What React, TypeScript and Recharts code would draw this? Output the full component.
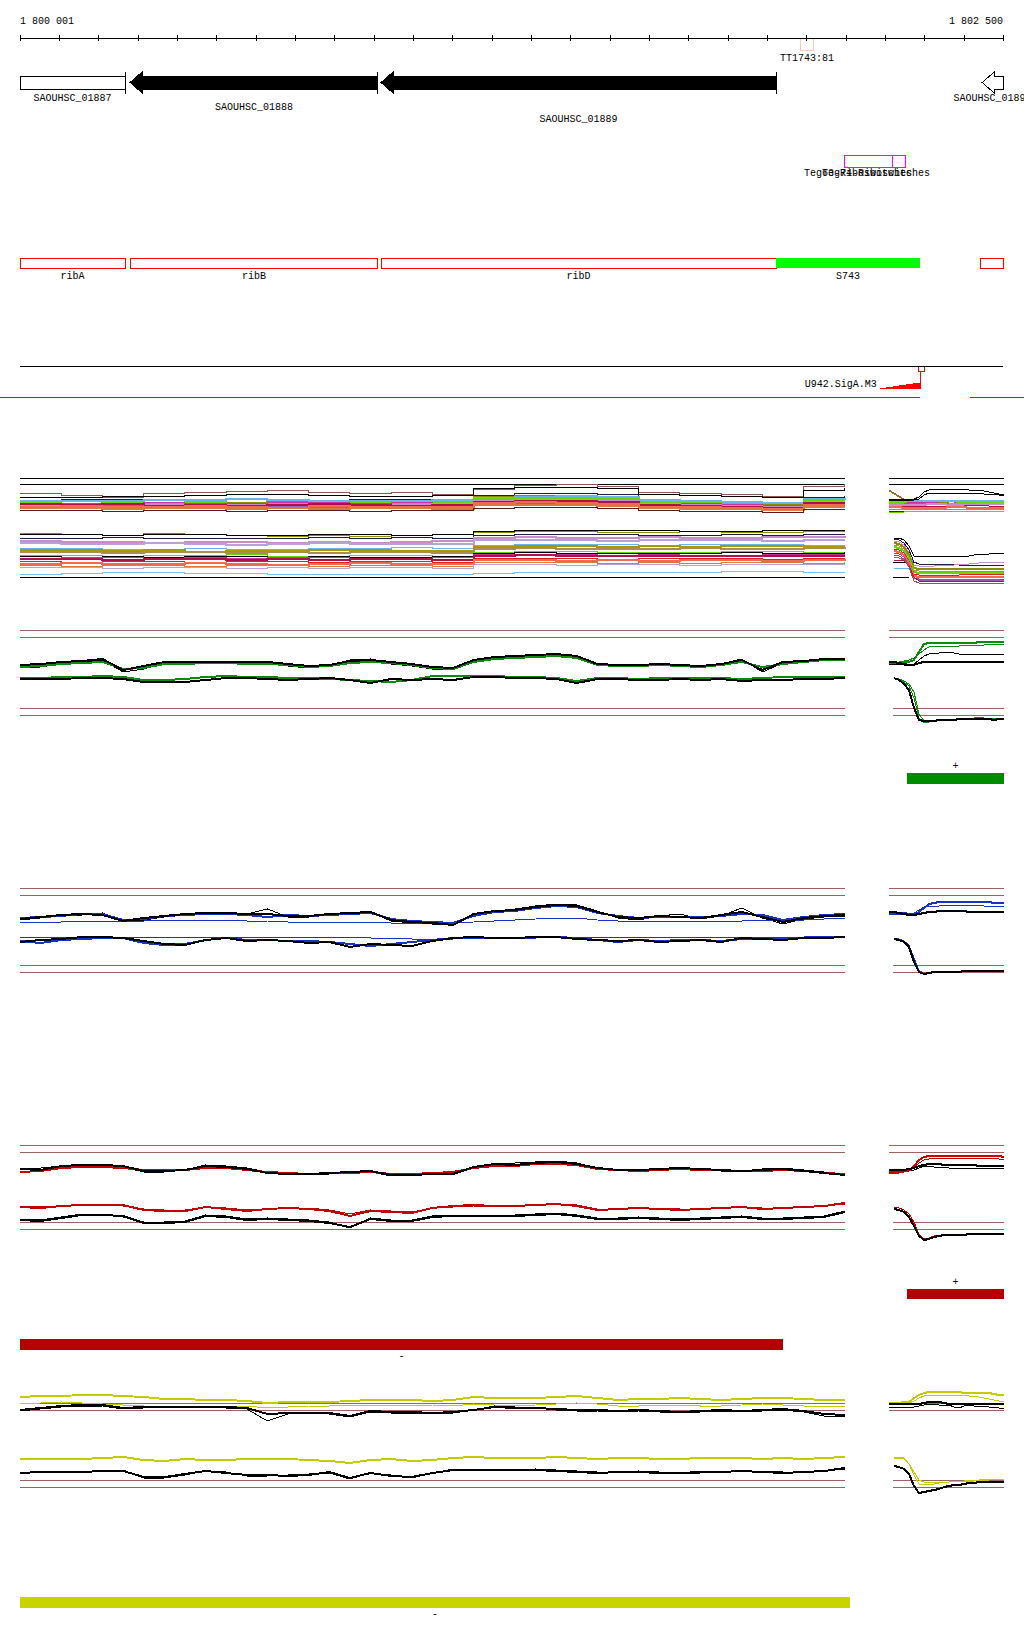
import React from 'react';
import {
  ComposedChart, LineChart, Line, Area, XAxis, YAxis, ReferenceArea, ReferenceLine,
} from 'recharts';

const MONO = '"Liberation Mono", "DejaVu Sans Mono", monospace';
const BROWN = '#9b6262';

// ---------- genome ruler / features (positions in bp) ----------
const rulerDomain: [number, number] = [1800001, 1802500];
const rulerTicks = [
  1800001, 1800101, 1800201, 1800301, 1800401, 1800501, 1800601, 1800701, 1800801,
  1800901, 1801001, 1801101, 1801201, 1801301, 1801401, 1801501, 1801601, 1801701,
  1801801, 1801901, 1802001, 1802101, 1802201, 1802301, 1802401, 1802500,
];
const rulerLabels = ['1 800 001', '1 802 500'];

const geneNames = ['SAOUHSC_01887', 'SAOUHSC_01888', 'SAOUHSC_01889', 'SAOUHSC_01890'];
const geneStarts = [1800001, 1800281, 1800919, 1802447];
const geneEnds = [1800268, 1800911, 1801923, 1802500];

const featureNames = ['ribA', 'ribB', 'ribD', 'S743', ''];
const featureStarts = [1800001, 1800281, 1800919, 1801923, 1802444];
const featureEnds = [1800268, 1800911, 1801923, 1802289, 1802500];

const tegNames = ['Teg63-Riboswitches', 'Teg74-Riboswitches'];
const tegStarts = [1802096, 1802218];
const tegEnds = [1802218, 1802253];

const terminatorName = 'TT1743:81';
const terminatorSpan = [1801986, 1802017];

const promoterName = 'U942.SigA.M3';
const promoterBp = [1802187, 1802203, 1802220, 1802236, 1802253, 1802270, 1802289];
const promoterScore = [1, 2, 3, 4, 5, 6, 6];
const promoterTss = 1802289;

// ---------- expression tracks ----------
// multi-condition track, main panel (21 steps) – group A (upper) and B (lower)
const mA1 = [97,95,93,97,98,99,100,98,97,98,96,101,105,106,104,98,97,96,94,104,106];
const mA2 = [93,93,94,94,95,96,96,95,94,94,95,102,103,103,102,96,95,94,93,100,102];
const mA3 = [90,91,91,90,91,91,90,90,91,91,91,95,97,97,96,91,90,89,88,93,94];
const mA4 = [88,89,88,86,85,87,88,88,87,88,89,93,94,94,93,89,88,87,85,91,91];
const mA5 = [87,86,88,87,88,86,87,87,88,87,88,91,92,92,91,88,87,86,84,90,90];
const mA6 = [89,89,89,90,90,91,90,89,89,89,90,92,93,94,93,90,89,88,87,91,92];
const mA7 = [85,85,84,85,84,85,85,84,85,85,86,89,90,90,89,86,85,84,83,88,88];
const mA8 = [86,85,86,84,85,84,85,86,85,84,85,88,89,89,88,85,84,83,82,87,87];
const mA9 = [83,84,83,83,84,83,82,84,83,83,83,87,88,87,86,83,83,82,81,85,85];
const mA10 = [82,82,81,82,82,81,82,81,82,82,81,85,85,85,84,82,81,81,80,83,83];
const mA11 = [84,83,85,83,83,84,84,83,84,83,84,87,87,87,86,84,83,82,82,86,86];
const mA12 = [80,80,79,80,80,79,80,80,79,80,80,82,83,83,82,80,79,79,78,81,81];
const mA13 = [87,87,87,88,87,87,88,88,87,88,87,90,91,91,90,87,87,86,85,89,89];

const mB1 = [57,56,55,57,56,55,54,55,54,55,56,58,59,59,58,58,59,58,58,59,59];
const mB2 = [56,56,55,56,56,55,55,56,56,55,56,59,60,60,60,60,59,59,60,60,60];
const mB3 = [52,52,53,52,52,52,52,53,52,53,52,55,56,56,56,55,55,56,55,56,56];
const mB4 = [49,48,48,47,48,48,47,48,47,48,49,52,53,52,52,53,52,52,53,53,52];
const mB5 = [47,46,46,47,46,45,46,47,46,46,46,50,50,50,49,50,50,50,49,50,50];
const mB6 = [42,42,41,41,42,41,41,42,42,43,42,45,46,46,46,45,46,46,46,45,45];
const mB7 = [40,40,39,40,38,39,39,40,40,39,39,43,44,44,43,44,43,44,44,43,43];
const mB8 = [38,38,37,38,38,37,38,37,38,38,37,41,42,41,41,41,42,41,41,42,41];
const mB9 = [35,35,34,35,35,36,34,34,35,35,34,38,39,39,38,38,38,39,39,38,38];
const mB10 = [34,33,34,33,34,34,33,34,33,33,34,37,38,37,37,37,37,38,37,37,38];
const mB11 = [32,33,33,32,33,32,33,33,32,32,33,36,36,36,35,36,35,35,36,36,36];
const mB12 = [31,31,30,31,31,30,31,30,31,31,30,34,35,34,34,34,34,34,34,34,34];
const mB13 = [29,28,29,29,28,29,29,28,29,29,28,32,32,32,31,32,32,32,31,32,32];
const mB14 = [26,27,26,26,27,26,25,26,27,26,26,30,30,29,30,29,30,30,29,30,29];
const mB15 = [25,24,25,25,24,25,25,24,25,25,24,28,28,28,27,28,27,28,28,27,28];
const mB16 = [23,23,22,23,23,22,23,22,23,23,22,26,26,25,26,26,25,26,26,26,25];
const mB17 = [16,17,18,18,17,17,16,16,16,16,16,17,18,18,18,18,18,19,19,18,18];

// multi-condition track, right panel (24 points)
const rA1 = [91,91,91,91,91,91,93,98,100,101,101,101,101,101,101,101,100,100,100,99,98,97,96,96];
const rA2 = [90,90,90,90,90,90,91,95,97,97,97,97,97,97,97,97,97,97,97,96,96,96,95,95];
const rA3 = [100,97,94,91,90,90,90,90,90,90,90,90,90,90,90,90,90,90,90,90,90,90,90,90];
const rA4 = [99,96,93,90,88,88,88,88,88,88,88,88,88,89,89,89,89,89,89,89,89,89,89,89];
const rA5 = [89,89,89,89,89,89,89,89,89,89,89,89,89,89,89,89,89,89,89,89,89,89,89,89];
const rA6 = [87,87,87,87,86,86,86,86,86,86,86,86,86,86,87,87,87,87,87,87,87,87,87,87];
const rA7 = [85,85,85,85,85,85,85,85,86,86,86,86,85,85,85,85,85,85,86,86,86,86,86,86];
const rA8 = [84,84,84,84,84,84,84,84,84,84,84,84,84,84,84,84,85,85,85,85,84,84,84,84];
const rA9 = [83,83,83,82,82,82,82,82,82,82,82,82,83,83,83,83,82,82,82,82,82,82,82,82];
const rA10 = [81,81,81,81,81,81,81,81,81,81,81,81,81,81,81,81,81,81,81,81,81,81,81,81];
const rA11 = [86,86,86,86,87,87,87,87,87,87,87,87,86,86,86,86,86,86,86,86,87,87,87,87];
const rA12 = [79,79,79,79,79,79,79,79,79,79,79,79,79,79,79,79,79,79,79,79,79,79,79,79];
const rA13 = [88,88,88,88,88,88,88,88,88,88,87,87,87,87,88,88,88,88,88,88,88,88,88,88];
const rA14 = [78,78,78,78,79,79,79,79,79,79,79,79,79,79,79,79,79,79,79,79,79,79,79,79];

const rB1 = [null,52,52,50,44,34,34,34,34,34,34,34,34,34,34,34,34,35,36,36,36,37,37,37];
const rB2 = [null,51,50,47,40,28,26,26,26,26,26,26,26,26,25,25,25,25,25,25,25,25,25,25];
const rB3 = [null,49,48,45,37,25,24,24,24,24,25,25,25,25,26,26,26,27,27,28,28,28,28,28];
const rB4 = [null,47,46,43,35,22,21,21,21,21,21,21,21,21,21,21,21,21,21,21,21,21,21,21];
const rB5 = [null,45,44,41,33,20,19,19,19,19,19,19,19,19,19,19,19,19,19,19,19,19,19,19];
const rB6 = [null,43,42,39,31,18,17,17,17,17,17,17,17,17,17,17,17,17,17,17,17,17,17,17];
const rB7 = [null,41,40,37,29,16,15,15,15,15,15,15,15,15,15,16,16,16,16,16,16,16,16,16];
const rB8 = [null,39,38,35,27,14,13,13,13,13,13,13,13,13,13,13,13,13,13,13,13,13,13,13];
const rB9 = [null,37,36,33,25,12,11,11,11,11,11,11,11,11,11,11,11,11,11,11,11,11,11,11];
const rB10 = [null,35,34,31,23,9,7,7,7,7,7,7,7,7,7,7,7,7,7,7,7,7,7,7];
const rB11 = [null,22,22,22,22,22,22,22,22,22,22,22,22,22,22,22,22,22,22,22,22,22,22,22];
const rB12 = [null,30,30,29,24,13,9,9,9,9,9,9,9,9,9,9,9,9,9,9,9,9,9,9];
const rB13 = [null,33,32,30,24,12,10,10,10,10,10,10,10,10,10,10,10,10,10,10,10,10,10,10];

// green condition
const gUpBlack = [65,66,68,69,71,60,64,68,68,68,68,68,68,66,64,65,69,70,68,66,63,62,70,73,74,75,76,74,66,65,65,66,65,64,66,70,60,68,69,71,71];
const gUpBlackThin = [62,63,66,68,70,58,61,67,67,68,69,67,66,64,62,64,70,71,66,64,61,61,69,72,73,74,75,73,65,64,63,65,64,63,66,71,58,67,69,70,70];
const gUpColor = [63,64,66,67,68,61,62,66,66,67,67,66,66,65,63,64,67,68,67,65,62,61,68,71,72,73,74,72,65,64,64,65,64,63,65,68,63,66,68,70,70];
const gLowBlack = [51,51,51,52,52,51,48,48,48,50,52,52,51,50,51,52,50,47,51,50,51,50,53,53,52,52,51,47,51,51,50,50,51,50,51,49,50,50,51,51,52];
const gLowColor = [52,52,53,53,54,53,50,50,51,53,54,53,53,52,52,51,50,49,48,50,54,54,54,54,53,53,52,49,52,52,51,52,52,52,52,51,52,53,53,53,53];
const gUpColorR = [67,67,67,68,68,70,78,86,87,87,87,87,87,87,87,87,87,87,88,88,88,88,88,88];
const gUpColorThinR = [67,67,68,69,70,72,76,80,83,84,84,84,84,84,84,85,85,85,85,85,86,86,86,86];
const gUpBlackR = [68,68,67,66,65,65,67,68,68,68,68,68,68,68,68,68,68,68,68,68,68,68,68,68];
const gUpBlackThinR = [66,66,66,65,65,66,70,74,76,77,77,78,78,77,76,76,76,76,76,76,76,76,76,75];
const gLowColorR = [null,52,51,48,44,32,12,7,8,9,10,10,11,11,11,11,12,12,12,12,12,12,12,12];
const gLowColorThinR = [null,52,51,49,46,38,16,9,9,10,10,11,11,11,11,11,12,12,13,12,12,12,12,12];
const gLowBlackR = [null,52,50,46,40,22,10,9,9,9,10,10,10,10,11,11,11,11,11,11,11,10,11,11];

// blue condition
const bUpBlack = [61,63,65,66,65,59,62,64,66,67,67,66,66,64,64,66,67,68,60,58,57,55,66,69,70,73,75,74,68,63,62,64,63,62,65,68,63,58,62,64,65];
const bUpBlackThin = [60,62,64,65,67,58,60,63,65,66,67,66,71,63,63,65,67,68,59,57,56,56,65,69,71,74,76,75,69,62,60,64,66,61,64,72,62,56,61,63,64];
const bUpColor = [62,63,64,66,66,60,61,64,65,66,66,65,63,65,64,65,66,67,61,59,58,57,64,68,69,72,74,73,67,64,62,63,63,63,64,66,65,60,63,65,66];
const bUpColorFlat = [58,58,58,59,59,59,59,60,60,60,60,59,59,58,58,58,58,58,57,57,57,57,58,59,60,61,62,62,60,59,59,59,59,59,59,59,60,60,60,61,62];
const bLowBlack = [38,40,41,43,43,42,39,36,35,40,42,39,40,39,37,38,33,36,35,34,39,42,43,42,42,43,43,41,40,39,40,38,39,40,38,42,41,40,42,42,43];
const bLowColor = [39,37,40,41,42,42,37,35,36,40,42,40,40,39,39,38,36,34,36,38,40,42,42,42,42,43,43,42,40,38,40,39,40,40,39,41,41,41,42,42,43];
const bLowColorFlat = [43,43,43,43,43,43,43,43,43,43,43,43,43,43,43,43,43,42,42,41,40,41,42,42,42,42,43,43,43,43,43,43,43,43,43,43,43,43,43,44,44];
const bUpColorR = [67,67,67,67,66,66,68,72,76,77,78,78,78,78,78,78,78,78,78,78,78,77,77,77];
const bUpColorThinR = [66,66,66,66,66,67,70,73,74,74,74,75,75,75,75,75,75,75,75,74,74,74,74,74];
const bUpBlackR = [68,68,67,66,65,65,66,67,68,68,69,69,69,69,69,69,68,68,68,68,68,68,68,68];
const bLowColorR = [null,42,41,39,35,22,10,6,7,8,8,8,9,9,9,9,9,9,9,9,9,9,9,9];
const bLowBlackR = [null,41,40,38,33,18,8,6,7,8,8,8,8,8,8,9,9,9,9,9,9,9,9,9];

// red condition
const rUpBlack = [71,70,74,75,75,74,69,69,70,74,73,71,67,66,66,67,68,69,65,65,66,66,73,76,75,77,78,76,72,70,70,71,72,71,70,69,70,71,69,67,65];
const rUpBlackThin = [72,72,74,76,76,73,68,68,70,75,74,72,68,67,66,66,67,68,64,66,66,66,72,75,77,78,79,77,72,70,69,71,73,71,69,68,71,72,70,68,66];
const rUpColor = [68,69,72,73,73,72,70,70,70,72,72,70,68,67,66,67,67,68,66,66,67,68,72,74,74,76,76,75,71,70,69,70,71,70,70,69,69,70,69,67,66];
const rLowColor = [33,32,34,35,35,35,30,29,29,33,31,29,31,32,31,29,24,29,28,27,32,34,35,34,34,35,36,34,30,31,32,31,30,31,32,33,31,32,33,34,37];
const rLowColorThin = [34,33,34,36,35,34,31,30,30,33,32,30,31,32,32,30,26,30,29,28,32,33,34,34,35,35,36,35,31,31,32,32,31,31,32,33,32,32,33,34,36];
const rLowBlack = [20,19,22,25,25,24,17,17,18,24,23,20,21,20,19,17,13,21,19,19,23,24,24,24,24,25,26,24,21,21,22,21,20,21,22,23,21,21,22,23,28];
const rLowBlackThin = [21,20,23,26,26,23,18,18,19,25,24,21,22,21,20,18,12,22,20,20,24,25,25,25,25,26,27,25,22,22,23,22,21,22,23,24,22,22,23,24,29];
const rUpColorR = [68,68,68,69,70,74,80,83,84,84,84,84,84,84,84,84,84,84,84,84,84,84,84,83];
const rUpColorThinR = [67,67,67,68,69,72,77,80,81,82,82,82,82,82,82,82,82,82,82,82,82,82,81,81];
const rUpBlackR = [70,70,70,70,71,72,74,75,76,76,76,75,75,75,75,75,75,75,74,74,74,74,74,74];
const rUpBlackThinR = [69,69,68,68,69,70,72,74,74,73,73,73,72,72,72,72,72,72,72,72,72,72,72,72];
const rLowColorR = [null,33,32,30,26,18,6,1,2,4,5,5,6,6,6,6,6,6,7,7,7,7,7,7];
const rLowBlackR = [null,31,30,28,23,14,4,0,1,3,4,5,5,5,5,5,6,6,6,6,6,6,6,6];

// yellow condition
const yUpColor = [103,104,104,105,105,104,103,101,101,100,100,99,97,98,98,98,99,100,100,100,99,100,103,102,102,102,103,104,102,100,101,101,102,101,100,101,102,102,101,100,100];
const yUpColorThin = [96,97,98,97,96,95,94,94,94,94,94,94,92,93,94,94,95,95,95,95,95,94,96,95,94,95,96,97,96,94,94,95,95,94,94,95,96,95,94,94,94];
const yUpBlack = [90,92,94,95,95,92,93,93,93,93,93,92,86,87,87,87,84,89,88,88,87,88,90,93,92,92,91,90,90,89,90,89,88,89,90,89,90,91,89,86,85];
const yUpBlackThin = [89,91,93,94,94,91,92,93,92,93,92,91,79,86,87,86,83,88,87,87,86,87,90,94,93,92,90,89,89,88,89,88,87,88,89,88,89,90,88,84,83];
const yLowColor = [41,41,41,41,42,43,40,39,41,40,40,41,41,41,40,39,37,40,41,39,40,42,43,42,42,42,43,42,41,42,42,41,41,42,42,42,41,42,41,42,43];
const yLowBlack = [27,28,28,28,29,29,23,23,26,29,27,25,25,24,25,28,22,27,24,23,27,30,30,30,30,30,29,28,27,28,28,27,27,28,28,29,28,27,28,29,32];
const yLowBlackThin = [28,27,28,29,29,30,22,22,25,29,28,24,24,25,26,27,21,27,25,22,27,31,31,29,30,31,30,29,28,28,29,28,27,27,28,29,29,28,27,29,31];
const yUpColorR = [97,97,97,98,98,102,105,107,108,108,108,108,108,108,108,107,107,107,107,107,107,106,105,105];
const yUpColorThinR = [96,96,96,96,97,99,102,104,105,105,105,105,105,105,105,105,104,104,103,102,101,100,99,99];
const yUpBlackR = [96,96,96,96,96,96,96,97,98,98,98,97,96,96,96,96,96,96,96,96,96,96,96,96];
const yUpBlackThinR = [93,93,93,93,93,93,94,95,96,96,95,95,95,93,92,94,95,94,94,94,93,93,92,91];
const yLowColorR = [null,43,43,42,36,25,16,16,16,16,17,18,18,19,19,19,20,20,20,21,21,21,21,21];
const yLowColorThinR = [null,42,42,41,36,28,20,18,18,18,18,18,18,19,19,19,19,19,20,20,20,21,21,21];
const yLowBlackR = [null,34,33,31,26,14,7,8,9,10,11,13,14,15,15,16,17,17,18,18,18,18,18,18];

// x grids
const mainIdx = Array.from({ length: 41 }, (_, i) => i);
const mainStepIdx = Array.from({ length: 21 }, (_, i) => i * 2);
const sideIdx = Array.from({ length: 24 }, (_, i) => i);

// ---------- styles ----------
const C = {
  black: '#000000', brown: '#8b5a4a', navy: '#1c1c44', olive: '#8c8c00', green: '#66d600',
  sky: '#6ab4e8', orchid: '#c88ccc', crimson: '#b0104a', salmon: '#f06a50', orange: '#d87a3a',
  purple: '#9a5cb4', darkred: '#5a1a1a', magenta: '#cc3399', khaki: '#a89800', tan: '#b08a50',
  red: '#e02020', lavender: '#b8a0d8', lightsky: '#78c0f0',
  condGreen: '#0a8c0a', condBlue: '#1633c8', condRed: '#c40000', condYellow: '#c4cc00',
};

type Series = { v: (number | null)[]; c: string; w?: number };
type HLine = { y: number; x1: number; x2: number; c: string };
type Mark = { x1: number; x2: number; y1: number; y2: number; c: string; text: string; above: boolean };

function Track(props: {
  left: number; top: number; width: number; height: number;
  xDomain: [number, number]; yDomain: [number, number]; xs: number[];
  series: Series[]; hlines?: HLine[]; marks?: Mark[]; curve?: 'linear' | 'stepAfter';
}) {
  const rows = props.xs.map((x, i) => {
    const r: Record<string, number | null> = { x };
    props.series.forEach((s, k) => { r['s' + k] = s.v[i] ?? null; });
    return r;
  });
  return (
    <div style={{ position: 'absolute', left: props.left, top: props.top }}>
      <LineChart width={props.width} height={props.height} data={rows} margin={{ top: 0, right: 0, bottom: 0, left: 0 }}>
        <XAxis dataKey="x" type="number" domain={props.xDomain} hide allowDataOverflow />
        <YAxis type="number" domain={props.yDomain} hide allowDataOverflow />
        {(props.hlines || []).map((h, k) => (
          <ReferenceLine key={'h' + k} segment={[{ x: h.x1, y: h.y }, { x: h.x2, y: h.y }]} stroke={h.c} strokeWidth={1} />
        ))}
        {props.series.map((s, k) => (
          <Line key={'s' + k} dataKey={'s' + k} stroke={s.c} strokeWidth={s.w || 1} dot={false}
            type={props.curve || 'linear'} isAnimationActive={false} connectNulls={false} />
        ))}
        {(props.marks || []).map((m, k) => (
          <ReferenceArea key={'m' + k} x1={m.x1} x2={m.x2} y1={m.y1} y2={m.y2} fill={m.c} fillOpacity={1}
            stroke="none" ifOverflow="visible"
            label={(p: any) => {
              const vb = p.viewBox;
              const y = m.above ? vb.y - 4 : vb.y + vb.height + 9;
              return <text x={vb.x + vb.width / 2} y={y} textAnchor="middle" fontFamily={MONO} fontSize={10} fill="#000">{m.text}</text>;
            }} />
        ))}
      </LineChart>
    </div>
  );
}

const MAIN = { left: 20, width: 830, xDomain: [0, 40.25] as [number, number] };
const SIDE = { left: 889, width: 116, xDomain: [0, 23.2] as [number, number] };

const mainLines = (ys: number[], c: string): HLine[] => ys.map((y) => ({ y, x1: 0, x2: 40, c }));
const sideLines = (ys: number[], c: string): HLine[] => ys.map((y, i) => ({ y, x1: i < 2 ? 0 : 0.8, x2: 23, c }));

function condSeries(c: string, up: (number | null)[][], low: (number | null)[][], blacks: (number | null)[][], blacksThin: (number | null)[][]): Series[] {
  const out: Series[] = [];
  blacksThin.forEach((v) => out.push({ v, c: C.black, w: 1 }));
  up.forEach((v, i) => out.push({ v, c, w: i === 0 ? 2 : 1 }));
  low.forEach((v, i) => out.push({ v, c, w: i === 0 ? 2 : 1 }));
  blacks.forEach((v) => out.push({ v, c: C.black, w: 2 }));
  return out;
}

// ---------- genome panel shapes ----------
const boxShape = (p: any) => {
  const { x, y, width: w, height: h } = p;
  return (
    <g>
      <rect x={x} y={y} width={w} height={h} fill="#fff" stroke="#000" />
      <line x1={x + w} x2={x + w} y1={y - 4} y2={y + h + 5} stroke="#000" />
    </g>
  );
};
const arrowShape = (filled: boolean, endTick: boolean) => (p: any) => {
  const { x, y, width: w, height: h } = p;
  const head = 12;
  const flare = 4;
  const pts = [
    [x, y + h / 2], [x + head, y - flare], [x + head, y], [x + w, y], [x + w, y + h],
    [x + head, y + h], [x + head, y + h + flare],
  ];
  return (
    <g>
      <polygon points={pts.map((q) => q.join(',')).join(' ')} fill={filled ? '#000' : '#fff'} stroke="#000" />
      {endTick && <line x1={x + w} x2={x + w} y1={y - 4} y2={y + h + 5} stroke="#000" />}
    </g>
  );
};
const geneShapes = [boxShape, arrowShape(true, true), arrowShape(true, true), arrowShape(false, false)];
const geneLabelDy = [12, 21, 33, 12];
const tegLabelDx = [-10, -23];

const centerLabel = (text: string, dy: number, anchor: 'middle' | 'end' = 'middle', dx = 0) => (p: any) => {
  const vb = p.viewBox;
  const x = anchor === 'middle' ? vb.x + vb.width / 2 + dx : vb.x - 3;
  return <text x={x} y={vb.y + vb.height + dy} textAnchor={anchor} fontFamily={MONO} fontSize={10} fill="#000">{text}</text>;
};

const RulerTick = (p: any) => {
  const { x, y, index } = p;
  const last = rulerTicks.length - 1;
  return (
    <g>
      <line x1={x} x2={x} y1={y - 3} y2={y + 3} stroke="#000" />
      {index === 0 && <text x={x} y={y - 14} fontFamily={MONO} fontSize={10} fill="#000">{rulerLabels[0]}</text>}
      {index === last && <text x={x} y={y - 14} textAnchor="end" fontFamily={MONO} fontSize={10} fill="#000">{rulerLabels[1]}</text>}
    </g>
  );
};

function GenomePanel() {
  const rows = promoterBp.map((bp, i) => ({ bp, top: 389 - promoterScore[i] }));
  return (
    <div style={{ position: 'absolute', left: 0, top: 0 }}>
      <ComposedChart width={1024} height={410} data={rows} margin={{ top: 8, right: 21, bottom: 0, left: 20 }}>
        <XAxis dataKey="bp" type="number" orientation="top" height={30} domain={rulerDomain} allowDataOverflow
          ticks={rulerTicks} interval={0} tickLine={false} tickSize={0} tickMargin={0}
          axisLine={{ stroke: '#000' }} tick={<RulerTick />} />
        <YAxis type="number" domain={[38, 410]} reversed hide allowDataOverflow />

        <ReferenceArea x1={terminatorSpan[0]} x2={terminatorSpan[1]} y1={38} y2={50} fill="none" stroke="#f8cbb8"
          label={centerLabel(terminatorName, 11)} />

        {geneNames.map((g, i) => (
          <ReferenceArea key={g} x1={geneStarts[i]} x2={geneEnds[i]} y1={76} y2={89} shape={geneShapes[i]}
            ifOverflow="visible" label={centerLabel(g, geneLabelDy[i])} />
        ))}

        {tegNames.map((t, i) => (
          <ReferenceArea key={t} x1={tegStarts[i]} x2={tegEnds[i]} y1={155} y2={167} fill="none" stroke="#ff00ff"
            label={centerLabel(t, 9, 'middle', tegLabelDx[i])} />
        ))}

        {featureNames.map((f, i) => (
          <ReferenceArea key={'f' + i} x1={featureStarts[i]} x2={featureEnds[i]} y1={258} y2={268}
            fill={f === 'S743' ? '#00ff00' : 'none'} fillOpacity={1} stroke={f === 'S743' ? 'none' : '#ff0000'}
            label={f ? centerLabel(f, 11) : undefined} />
        ))}

        <ReferenceLine y={366} stroke="#000" />
        <Area dataKey="top" type="stepAfter" baseValue={389} stroke="none" fill="#ff0000" fillOpacity={1} isAnimationActive={false} />
        <ReferenceArea x1={promoterBp[0]} x2={promoterTss} y1={376} y2={389} fill="none" stroke="none"
          label={centerLabel(promoterName, -2, 'end')} />
        <ReferenceLine segment={[{ x: promoterTss, y: 371 }, { x: promoterTss, y: 389 }]} stroke="#ff0000" />
        <ReferenceArea x1={promoterTss - 5} x2={promoterTss + 12} y1={366} y2={371} fill="#fff" stroke="#ff0000" />
        <ReferenceLine segment={[{ x: 1799940, y: 397 }, { x: promoterTss, y: 397 }]} stroke="#ff0000" ifOverflow="visible" />
        <ReferenceLine segment={[{ x: 1802416, y: 397 }, { x: 1802560, y: 397 }]} stroke="#ff0000" ifOverflow="visible" />
      </ComposedChart>
    </div>
  );
}

export default function App() {
  const multiMain: Series[] = [
    { v: mA1, c: C.brown }, { v: mA2, c: C.black }, { v: mA3, c: C.navy }, { v: mA4, c: C.olive, w: 2 },
    { v: mA6, c: C.sky, w: 2 }, { v: mA5, c: C.green, w: 2 }, { v: mA13, c: C.magenta }, { v: mA7, c: C.orchid, w: 2 },
    { v: mA8, c: C.crimson, w: 2 }, { v: mA11, c: C.purple }, { v: mA9, c: C.salmon, w: 2 }, { v: mA10, c: C.orange, w: 2 },
    { v: mA12, c: C.darkred },
    { v: mB1, c: C.olive }, { v: mB2, c: C.black }, { v: mB3, c: C.navy }, { v: mB4, c: C.orchid, w: 2 },
    { v: mB5, c: C.lavender, w: 2 }, { v: mB6, c: C.sky }, { v: mB7, c: C.khaki, w: 2 }, { v: mB8, c: C.tan, w: 2 },
    { v: mB9, c: C.green }, { v: mB10, c: C.black }, { v: mB11, c: C.magenta }, { v: mB12, c: C.crimson, w: 2 },
    { v: mB13, c: C.red }, { v: mB14, c: C.salmon, w: 2 }, { v: mB15, c: C.orange }, { v: mB16, c: C.lavender },
    { v: mB17, c: C.lightsky },
  ];
  const multiSide: Series[] = [
    { v: rA3, c: C.brown }, { v: rA4, c: C.olive }, { v: rA5, c: C.sky, w: 2 }, { v: rA13, c: C.magenta },
    { v: rA6, c: C.green, w: 2 }, { v: rA11, c: C.purple }, { v: rA7, c: C.orchid, w: 2 }, { v: rA8, c: C.crimson },
    { v: rA9, c: C.salmon, w: 2 }, { v: rA10, c: C.orange }, { v: rA12, c: C.darkred }, { v: rA14, c: C.green },
    { v: rA1, c: C.black }, { v: rA2, c: C.black },
    { v: rB11, c: C.sky }, { v: rB1, c: C.black }, { v: rB2, c: C.navy }, { v: rB3, c: C.orchid },
    { v: rB4, c: C.olive, w: 2 }, { v: rB5, c: C.tan }, { v: rB6, c: C.green, w: 2 }, { v: rB7, c: C.red },
    { v: rB8, c: C.salmon, w: 2 }, { v: rB9, c: C.magenta }, { v: rB13, c: C.purple }, { v: rB12, c: C.crimson },
    { v: rB10, c: C.brown },
  ];

  return (
    <div style={{
      position: 'absolute', left: 0, top: 0, width: 1024, height: 1640, overflow: 'hidden',
      background: '#fff', fontFamily: MONO, shapeRendering: 'crispEdges',
    }}>
      <GenomePanel />

      {/* multi-condition track */}
      <Track {...MAIN} top={470} height={120} yDomain={[0, 120]} xs={mainStepIdx} curve="stepAfter"
        series={multiMain} hlines={mainLines([112, 106, 13], C.black)} />
      <Track {...SIDE} top={470} height={120} yDomain={[0, 120]} xs={sideIdx}
        series={multiSide}
        hlines={[{ y: 112, x1: 0, x2: 23, c: C.black }, { y: 106, x1: 0, x2: 23, c: C.black },
          { y: 28, x1: 0.8, x2: 5, c: C.black }, { y: 13, x1: 0.8, x2: 4, c: C.black }]} />

      {/* green condition */}
      <Track {...MAIN} top={620} height={170} yDomain={[-60, 110]} xs={mainIdx}
        series={condSeries(C.condGreen, [gUpColor], [gLowColor], [gUpBlack, gLowBlack], [gUpBlackThin])}
        hlines={mainLines([100, 93, 22, 15], BROWN)} />
      <Track {...SIDE} top={620} height={170} yDomain={[-60, 110]} xs={sideIdx}
        series={condSeries(C.condGreen, [gUpColorR, gUpColorThinR, gLowColorR, gLowColorThinR], [], [gUpBlackR, gLowBlackR], [gUpBlackThinR])}
        hlines={sideLines([100, 93, 22, 15], BROWN)}
        marks={[{ x1: 3.6, x2: 23, y1: -54, y2: -43, c: '#008c00', text: '+', above: true }]} />

      {/* blue condition */}
      <Track {...MAIN} top={880} height={100} yDomain={[0, 100]} xs={mainIdx}
        series={condSeries(C.condBlue, [bUpColor, bUpColorFlat], [bLowColor, bLowColorFlat], [bUpBlack, bLowBlack], [bUpBlackThin])}
        hlines={mainLines([92, 85, 15, 8], BROWN)} />
      <Track {...SIDE} top={880} height={100} yDomain={[0, 100]} xs={sideIdx}
        series={condSeries(C.condBlue, [bUpColorR, bUpColorThinR, bLowColorR], [], [bUpBlackR, bLowBlackR], [])}
        hlines={sideLines([92, 85, 15, 8], BROWN)} />

      {/* red condition */}
      <Track {...MAIN} top={1140} height={225} yDomain={[-125, 100]} xs={mainIdx}
        series={condSeries(C.condRed, [rUpColor], [rLowColor, rLowColorThin], [rUpBlack, rLowBlack], [rUpBlackThin, rLowBlackThin])}
        hlines={mainLines([95, 88, 18, 11], BROWN)}
        marks={[{ x1: 0, x2: 37, y1: -110, y2: -99, c: '#b40000', text: '-', above: false }]} />
      <Track {...SIDE} top={1140} height={225} yDomain={[-125, 100]} xs={sideIdx}
        series={condSeries(C.condRed, [rUpColorR, rUpColorThinR, rLowColorR], [], [rUpBlackR, rLowBlackR], [rUpBlackThinR])}
        hlines={sideLines([95, 88, 18, 11], BROWN)}
        marks={[{ x1: 3.6, x2: 23, y1: -59, y2: -49, c: '#b40000', text: '+', above: true }]} />

      {/* yellow condition */}
      <Track {...MAIN} top={1380} height={245} yDomain={[-125, 120]} xs={mainIdx}
        series={condSeries(C.condYellow, [yUpColor, yUpColorThin], [yLowColor], [yUpBlack, yLowBlack], [yUpBlackThin, yLowBlackThin])}
        hlines={mainLines([97, 90, 20, 13], BROWN)}
        marks={[{ x1: 0, x2: 40.24, y1: -108, y2: -97, c: '#c8d400', text: '-', above: false }]} />
      <Track {...SIDE} top={1380} height={245} yDomain={[-125, 120]} xs={sideIdx}
        series={condSeries(C.condYellow, [yUpColorR, yUpColorThinR, yLowColorR, yLowColorThinR], [], [yUpBlackR, yLowBlackR], [yUpBlackThinR])}
        hlines={sideLines([97, 90, 20, 13], BROWN)} />
    </div>
  );
}
